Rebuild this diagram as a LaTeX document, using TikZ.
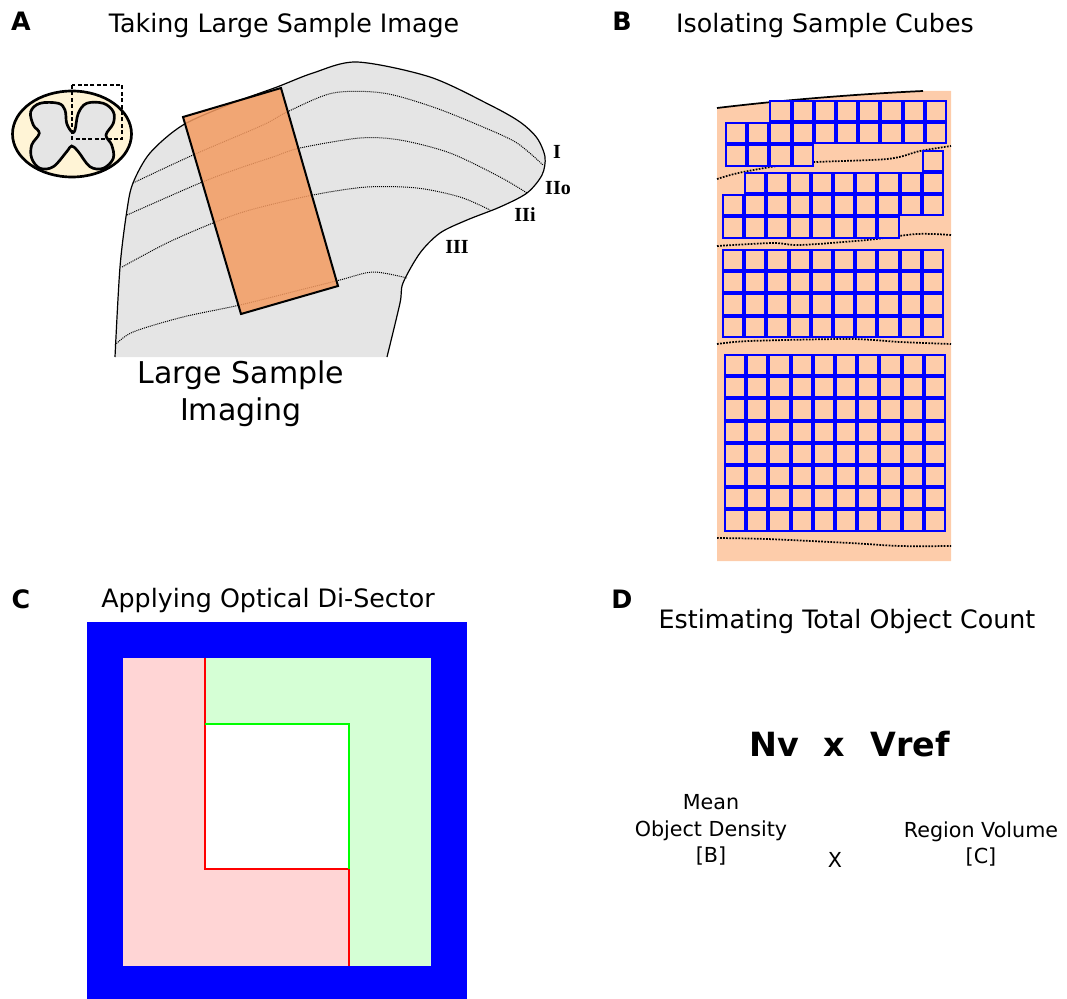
\documentclass[tikz,border=0pt]{standalone}
\usepackage{fontspec}
\setmainfont{DejaVu Sans}
\newfontfamily\laminafont{Liberation Serif}
\usepackage{tikz}
\usetikzlibrary{positioning, calc}

\definecolor{tissuegray}{RGB}{229,229,229}
\definecolor{slabfill}{RGB}{244,155,97}
\definecolor{cordcream}{RGB}{255,244,214}
\definecolor{peach}{RGB}{253,204,170}
\definecolor{guardpink}{RGB}{255,213,213}
\definecolor{guardgreen}{RGB}{213,255,213}

\tikzset{
    panelletter/.style={
        font=\fontsize{19}{22}\selectfont\bfseries, anchor=base
    },
    paneltitle/.style={
        font=\fontsize{19}{23}\selectfont, anchor=base
    },
    lamina/.style={
        font=\fontsize{15}{17}\selectfont\laminafont\bfseries
    },
    laminaline/.style={
        draw=black, line width=0.75pt, dash pattern=on 0.75pt off 0.75pt
    },
    cubeline/.style={
        draw=black, line width=1.3pt, dash pattern=on 1.3pt off 1pt
    },
    cube/.style={
        draw=blue, fill=peach, line width=1.5pt
    },
    caption/.style={
        font=\fontsize{15.5}{20}\selectfont, align=center
    },
    formula/.style={
        font=\fontsize{25}{30}\selectfont\bfseries, anchor=base
    }
}

\begin{document}
\begin{tikzpicture}[x=0.75pt, y=-0.75pt]
    \useasboundingbox (0,0) rectangle (1067,999);

    % ---------------- A: large sample image
    \node[panelletter] (letterA) at (21,31) {A};
    \node[paneltitle] (titleA) at (284,33) {Taking Large Sample Image};

    % cord cross-section inset
    \draw[line width=2pt, fill=cordcream] (72,134) ellipse [x radius=59.5, y radius=43];
    \draw[line width=2pt, fill=tissuegray] plot[smooth cycle, tension=0.6] coordinates {
        (71.7,131.7) (66.7,123.3) (65,110) (58.3,103.3) (40,103.3) (30.7,111.7)
        (33.3,125) (39.3,133.3) (31.7,145) (31.7,158.3) (40,168.3)
        (53.3,166.7) (66.7,151.7) (71.7,146) (78.3,151.7) (90,166.7)
        (103.3,168.3) (113.3,158.3) (111.7,145) (106,135) (113.3,123.3)
        (113.3,111.7) (103.3,103.3) (86.7,103.3) (78.3,113.3) (75,130)};
    \draw[line width=1.5pt, dash pattern=on 3pt off 1.8pt] (72,85) rectangle (122,139);

    % dorsal horn (open at the bottom)
    \filldraw[fill=tissuegray, draw=black, line width=0.9pt]
        plot[smooth, tension=0.5] coordinates {
        (115,357) (120,267) (127,210) (133,183) (150,153) (183,125)
        (233,103) (277,87) (313,73) (357,62) (430,77) (490,105)
        (520,122) (537,138) (545,157) (542,175) (527,193) (500,207)
        (467,220) (440,233) (420,253) (403,283) (400,303) (387,357)};

    % laminar borders
    \draw[laminaline] plot[smooth] coordinates {(133,183) (193,155) (263,125) (287,112)
        (333,93) (383,93) (433,107) (483,127) (517,143) (543,165)};
    \draw[laminaline] plot[smooth] coordinates {(127,215) (200,183) (240,168) (273,157)
        (300,148) (360,138) (400,140) (450,153) (500,177) (527,193)};
    \draw[laminaline] plot[smooth] coordinates {(122,267) (167,243) (213,223) (250,210)
        (313,195) (367,187) (417,188) (460,197) (490,210)};
    \draw[laminaline] plot[smooth] coordinates {(115,345) (133,332) (183,317) (240,305)
        (300,290) (340,280) (373,272) (407,278)};

    \node[lamina] (lamI) at (557,152) {I};
    \node[lamina] (lamIIo) at (558,188) {IIo};
    \node[lamina] (lamIIi) at (525,215) {IIi};
    \node[lamina] (lamIII) at (457,247) {III};

    % imaged slab
    \filldraw[fill=slabfill, fill opacity=0.85, draw=black, line width=1.5pt]
        (183,117) -- (281,88) -- (338,286) -- (241,314) -- cycle;

    \node[font=\fontsize{22.5}{28}\selectfont, align=center] (imaging) at (241,394)
        {Large Sample\\Imaging};

    % ---------------- B: sample cubes
    \node[panelletter] (letterB) at (622,31) {B};
    \node[paneltitle] (titleB) at (825,33) {Isolating Sample Cubes};

    \fill[peach] (717,108) .. controls (800,98) and (880,93) .. (923,91)
        -- (951,91) -- (951,561) -- (717,561) -- cycle;
    \draw[line width=1.3pt] (717,108) .. controls (800,98) and (880,93) .. (923,91);

    \draw[cubeline] plot[smooth] coordinates {(717,179) (743,172) (800,163) (887,159) (920,151) (951,146)};
    \draw[cubeline] plot[smooth] coordinates {(717,246) (773,243) (800,245) (867,240) (917,234) (951,235)};
    \draw[cubeline] plot[smooth] coordinates {(717,344) (750,341) (850,339) (900,342) (951,344)};
    \draw[cubeline] plot[smooth] coordinates {(717,538) (767,539) (850,543) (900,546) (951,546)};

    % partial rows near the boundaries
    \foreach \ox/\oy/\r/\first/\last in {725/100/0/2/9, 725/100/1/0/9, 725/100/2/0/3,
            722/172/-1/9/9, 722/172/0/1/9, 722/172/1/0/9, 722/172/2/0/7}
        \foreach \c in {\first,...,\last}
            \draw[cube] ({\ox+1+\c*22.2},{\oy+1+\r*22.2}) rectangle ++(20.2,20.2);
    % full blocks
    \foreach \ox/\oy/\nr in {722/249/3, 724/354/7}
        \foreach \r in {0,...,\nr}
            \foreach \c in {0,...,9}
                \draw[cube] ({\ox+1+\c*22.2},{\oy+1+\r*22.2}) rectangle ++(20.2,20.2);

    % ---------------- C: optical disector
    \node[panelletter] (letterC) at (21,608) {C};
    \node[paneltitle] (titleC) at (268,607) {Applying Optical Di-Sector};

    \fill[blue] (87,622) rectangle (467,999);
    \fill[guardgreen] (123,658) rectangle (431,966);
    \fill[guardpink] (123,658) rectangle (205,966);
    \fill[guardpink] (205,869) rectangle (349,966);
    \fill[white] (205,724) rectangle (349,869);
    \draw[red, line width=2pt] (205,658) -- (205,869) -- (349,869) -- (349,966);
    \draw[green, line width=2pt] (205,724) -- (349,724) -- (349,869);

    % ---------------- D: total count
    \node[panelletter] (letterD) at (622,608) {D};
    \node[paneltitle] (titleD) at (847,628) {Estimating Total Object Count};

    \node[formula] (nv) at (774,756) {Nv};
    \node[formula] (times) at (834,756) {x};
    \node[formula] (vref) at (910,756) {Vref};

    \node[caption] (density) at (711,830) {Mean\\Object Density\\{[B]}};
    \node[caption, anchor=base] (timestoo) at (835,867) {X};
    \node[caption] (volume) at (981,844) {Region Volume\\{[C]}};
\end{tikzpicture}
\end{document}
